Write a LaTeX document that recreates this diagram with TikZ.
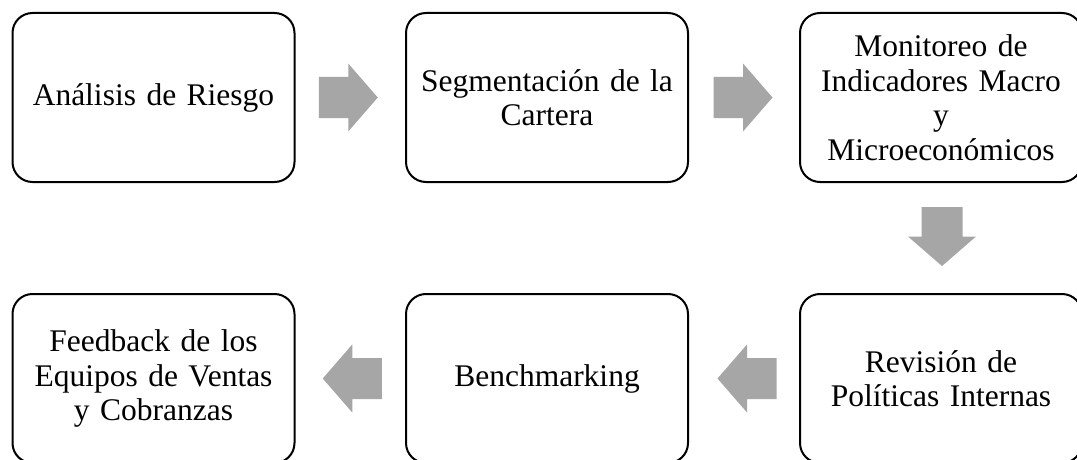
\documentclass[tikz,border=0pt]{standalone}
\usepackage{fontspec}
\setmainfont{Liberation Serif}
\usetikzlibrary{calc}
\definecolor{arrowgray}{RGB}{166,166,166}
\tikzset{
  stepbox/.style={draw=black, line width=2pt, rounded corners=20pt, fill=white,
    minimum width=282pt, minimum height=169pt, text width=274pt, align=center,
    inner sep=0pt, font=\fontsize{31.5pt}{34.5pt}\selectfont},
  blockarrowfill/.style={fill=arrowgray}
}
\newcommand\blkarrow[2]{%
  \fill[blockarrowfill, shift={(#1)}, rotate=#2]
    (-29.5,-20.5) -- (0,-20.5) -- (0,-34) -- (29.5,0) -- (0,34) -- (0,20.5) -- (-29.5,20.5) -- cycle;}
\begin{document}
\begin{tikzpicture}[x=1pt,y=-1pt]
\useasboundingbox (0,0) rectangle (1077,460);
\clip (0,0) rectangle (1077,460);
\fill[white] (0,0) rectangle (1077,460);
\node[stepbox] (a) at (153.5,97.5) {Análisis de Riesgo};
\node[stepbox] (b) at (547,97.5) {Segmentación de la\\Cartera};
\node[stepbox] (c) at (941,97.5) {Monitoreo de\\Indicadores Macro\\y\\Microeconómicos};
\node[stepbox] (f) at (941,378.5) {Revisión de\\Políticas Internas};
\node[stepbox] (e) at (547,378.5) {Benchmarking};
\node[stepbox] (d) at (153.5,378.5) {Feedback de los\\Equipos de Ventas\\y Cobranzas};
\coordinate (ab) at ($(a.east)!0.5!(b.west)$);
\coordinate (bc) at ($(b.east)!0.5!(c.west)$);
\coordinate (cf) at ($(c.south)!0.5!(f.north)$);
\coordinate (fe) at ($(f.west)!0.5!(e.east)$);
\coordinate (ed) at ($(e.west)!0.5!(d.east)$);
\blkarrow{$(ab)+(-2,0)$}{0}
\blkarrow{$(bc)+(-1,0)$}{0}
\blkarrow{$(cf)+(1,-1.5)$}{-90}
\blkarrow{$(fe)+(3,0)$}{180}
\blkarrow{$(ed)+(2,0)$}{180}
\end{tikzpicture}
\end{document}
